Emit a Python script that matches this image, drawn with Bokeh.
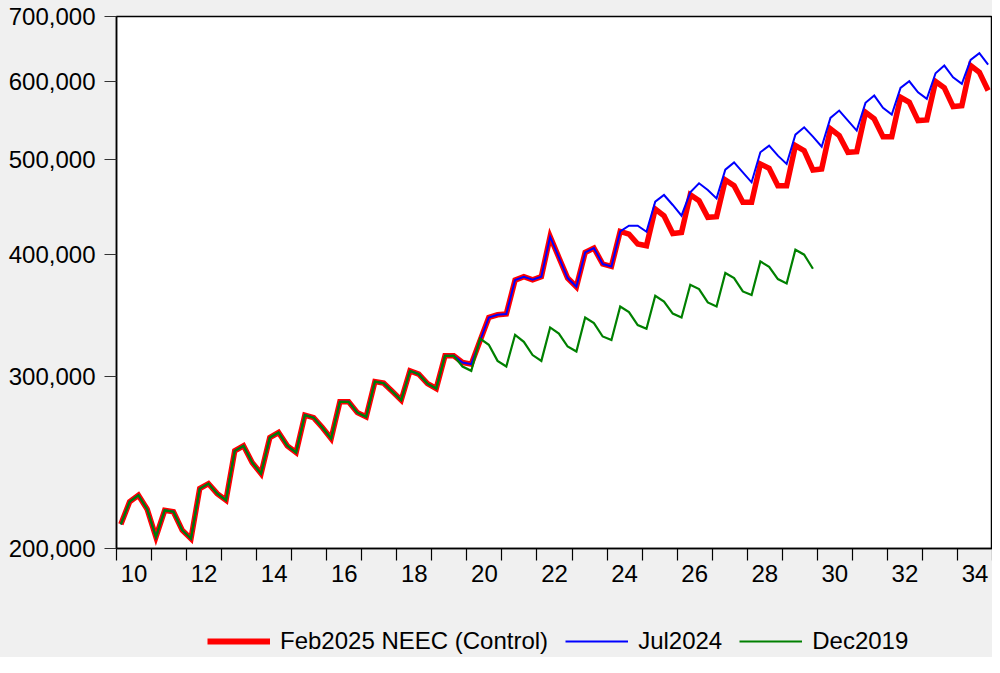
import numpy as np
from bokeh.plotting import figure
from bokeh.layouts import column
from bokeh.models import (Range1d, FixedTicker, NumeralTickFormatter, CustomJSTickFormatter,
                          Legend, LegendItem)
from bokeh.embed import file_html
from bokeh.resources import INLINE

# ---------------- data (quarterly, starting 2010Q1), thousands ----------------
start_year = 2010

feb2025_neec = [  # Feb2025 NEEC (Control), 2010Q1 - 2034Q4
    211.7, 223.3, 226.7, 219.4,
    205.5, 218.8, 218.1, 208.8,
    204.7, 230.3, 233.0, 227.6,
    224.1, 251.7, 254.7, 244.8,
    238.6, 259.7, 262.8, 254.7,
    250.7, 273.8, 272.2, 265.9,
    259.1, 282.5, 282.5, 275.4,
    272.7, 296.3, 295.2, 289.4,
    283.6, 303.9, 301.5, 294.9,
    291.5, 314.8, 314.8, 309.9,
    308.7, 326.2, 344.6, 346.8,
    347.4, 376.3, 379.3, 376.6,
    379.3, 416.8, 396.9, 378.1,
    370.4, 401.6, 405.8, 390.8,
    388.6, 422.0, 419.4, 409.7,
    408.0, 444.9, 437.9, 420.0,
    421.0, 460.1, 453.7, 436.2,
    436.9, 476.4, 470.0, 451.9,
    451.9, 494.7, 489.6, 470.0,
    470.0, 516.5, 510.4, 487.7,
    488.9, 537.2, 528.8, 508.4,
    509.2, 558.6, 550.0, 527.5,
    527.5, 578.7, 572.0, 547.8,
    548.7, 600.6, 591.7, 566.2,
    567.5, 623.6, 613.8, 588.0,
]

jul2024 = [  # Jul2024, 2010Q1 - 2034Q4
    211.7, 223.3, 226.7, 219.4,
    205.5, 218.8, 218.1, 208.8,
    204.7, 230.3, 233.0, 227.6,
    224.1, 251.7, 254.7, 244.8,
    238.6, 259.7, 262.8, 254.7,
    250.7, 273.8, 272.2, 265.9,
    259.1, 282.5, 282.5, 275.4,
    272.7, 296.3, 295.2, 289.4,
    283.6, 303.9, 301.5, 294.9,
    291.5, 314.8, 314.8, 309.9,
    308.7, 326.2, 344.6, 346.8,
    347.4, 376.3, 379.3, 376.6,
    379.3, 416.8, 396.9, 378.1,
    370.4, 401.6, 405.8, 390.8,
    388.6, 422.0, 427.7, 427.7,
    421.7, 452.6, 459.8, 449.1,
    437.9, 462.6, 472.6, 465.3,
    456.1, 488.1, 496.5, 485.0,
    473.7, 508.4, 516.5, 504.4,
    494.7, 530.0, 539.2, 527.5,
    515.2, 551.3, 560.9, 547.8,
    535.1, 571.2, 581.1, 564.5,
    555.6, 591.7, 601.0, 585.6,
    576.6, 612.4, 623.6, 606.7,
    597.3, 632.1, 642.0, 625.1,
]

dec2019 = [  # Dec2019, 2010Q1 - 2029Q4
    211.7, 223.3, 226.7, 219.4,
    205.5, 218.8, 218.1, 208.8,
    204.7, 230.3, 233.0, 227.6,
    224.1, 251.7, 254.7, 244.8,
    238.6, 259.7, 262.8, 254.7,
    250.7, 273.8, 272.2, 265.9,
    259.1, 282.5, 282.5, 275.4,
    272.7, 296.3, 295.2, 289.4,
    283.6, 303.9, 301.5, 294.9,
    291.5, 314.8, 314.8, 307.0,
    303.9, 327.9, 323.1, 311.1,
    307.0, 330.8, 325.4, 315.4,
    311.1, 336.6, 331.8, 321.8,
    318.0, 344.6, 340.1, 329.5,
    326.7, 353.6, 349.0, 338.5,
    335.5, 362.7, 357.8, 347.8,
    344.6, 372.2, 368.4, 357.0,
    353.6, 382.6, 378.1, 366.4,
    363.3, 393.2, 388.3, 377.2,
    373.3, 404.2, 399.5, 386.5,
]

series_labels = ["Feb2025 NEEC (Control)", "Jul2024", "Dec2019"]
series_colors = ["#FF0000", "#0000FF", "#008000"]
series_widths = [5.5, 2, 2.2]
y_ticks = [200000, 300000, 400000, 500000, 600000, 700000]
x_label_years = list(range(2010, 2035, 2))


def quarter_x(n):
    # centre of each quarter, in fractional years
    return [start_year + (i + 0.5) / 4.0 for i in range(n)]


def to_units(vals):
    return [v * 1000.0 for v in vals]


FONT = "Liberation Sans"
BG = "#F0F0F0"

p = figure(width=992, height=600, output_backend="svg", toolbar_location=None,
           x_range=Range1d(2010, 2035), y_range=Range1d(200000, 700000),
           y_axis_type="log",
           min_border_left=116, min_border_right=0, min_border_top=16, min_border_bottom=52,
           background_fill_color="white", border_fill_color=BG)
p.grid.visible = False
p.outline_line_color = "black"
p.outline_line_width = 1.5

# x axis: year boundary ticks (minor), labels centred on even years
xa = p.xaxis[0]
xa.ticker = FixedTicker(ticks=[y + 0.5 for y in x_label_years],
                        minor_ticks=list(range(2010, 2036)))
xa.formatter = CustomJSTickFormatter(code="return String(Math.floor(tick) % 100).padStart(2, '0');")
xa.major_tick_line_color = None
xa.major_tick_out = 12
xa.major_tick_in = 0
xa.minor_tick_out = 12
xa.minor_tick_in = 0
xa.minor_tick_line_color = "black"
xa.minor_tick_line_width = 1.2
xa.major_label_standoff = 4

ya = p.yaxis[0]
ya.ticker = FixedTicker(ticks=y_ticks)
ya.formatter = NumeralTickFormatter(format="0,0")
ya.major_tick_out = 12
ya.major_tick_in = 0
ya.minor_tick_out = 0
ya.minor_tick_in = 0
ya.major_tick_line_color = "#333333"
ya.major_tick_line_width = 1.2
ya.major_label_standoff = 9

for ax in (xa, ya):
    ax.axis_line_color = "black"
    ax.axis_line_width = 1.5
    ax.major_label_text_font = FONT
    ax.major_label_text_font_size = "24px"
    ax.major_label_text_color = "#000000"

series = [feb2025_neec, jul2024, dec2019]
for vals, col, w in zip(series, series_colors, series_widths):
    p.line(quarter_x(len(vals)), to_units(vals), line_color=col, line_width=w,
           line_join="miter")

# ---------------- legend strip below the chart ----------------
lg = figure(width=992, height=57, output_backend="svg", toolbar_location=None,
            x_range=Range1d(0, 1), y_range=Range1d(0, 1),
            x_axis_location=None, y_axis_location=None,
            min_border_left=116, min_border_right=0,
            min_border_top=0, min_border_bottom=0,
            background_fill_color=None, border_fill_color=BG, outline_line_color=None)
lg.grid.visible = False

items = []
nan = float("nan")
for lab, col, w in zip(series_labels, series_colors, series_widths):
    # legend proxy: a line renderer with no drawable points
    r = lg.line(x=[nan], y=[nan], line_color=col, line_width=w + (0.5 if w > 3 else 0))
    items.append(LegendItem(label=lab, renderers=[r]))

legend = Legend(items=items, location=(91, 2), orientation="horizontal",
                glyph_width=63, glyph_height=20, label_standoff=10, spacing=17,
                padding=0, margin=0, border_line_color=None,
                background_fill_alpha=0,
                label_text_font=FONT, label_text_font_size="24px",
                label_text_color="#000000")
lg.add_layout(legend)

layout = column(p, lg, spacing=0, styles={"background-color": BG})
open("out.html", "w").write(file_html(layout, INLINE))
